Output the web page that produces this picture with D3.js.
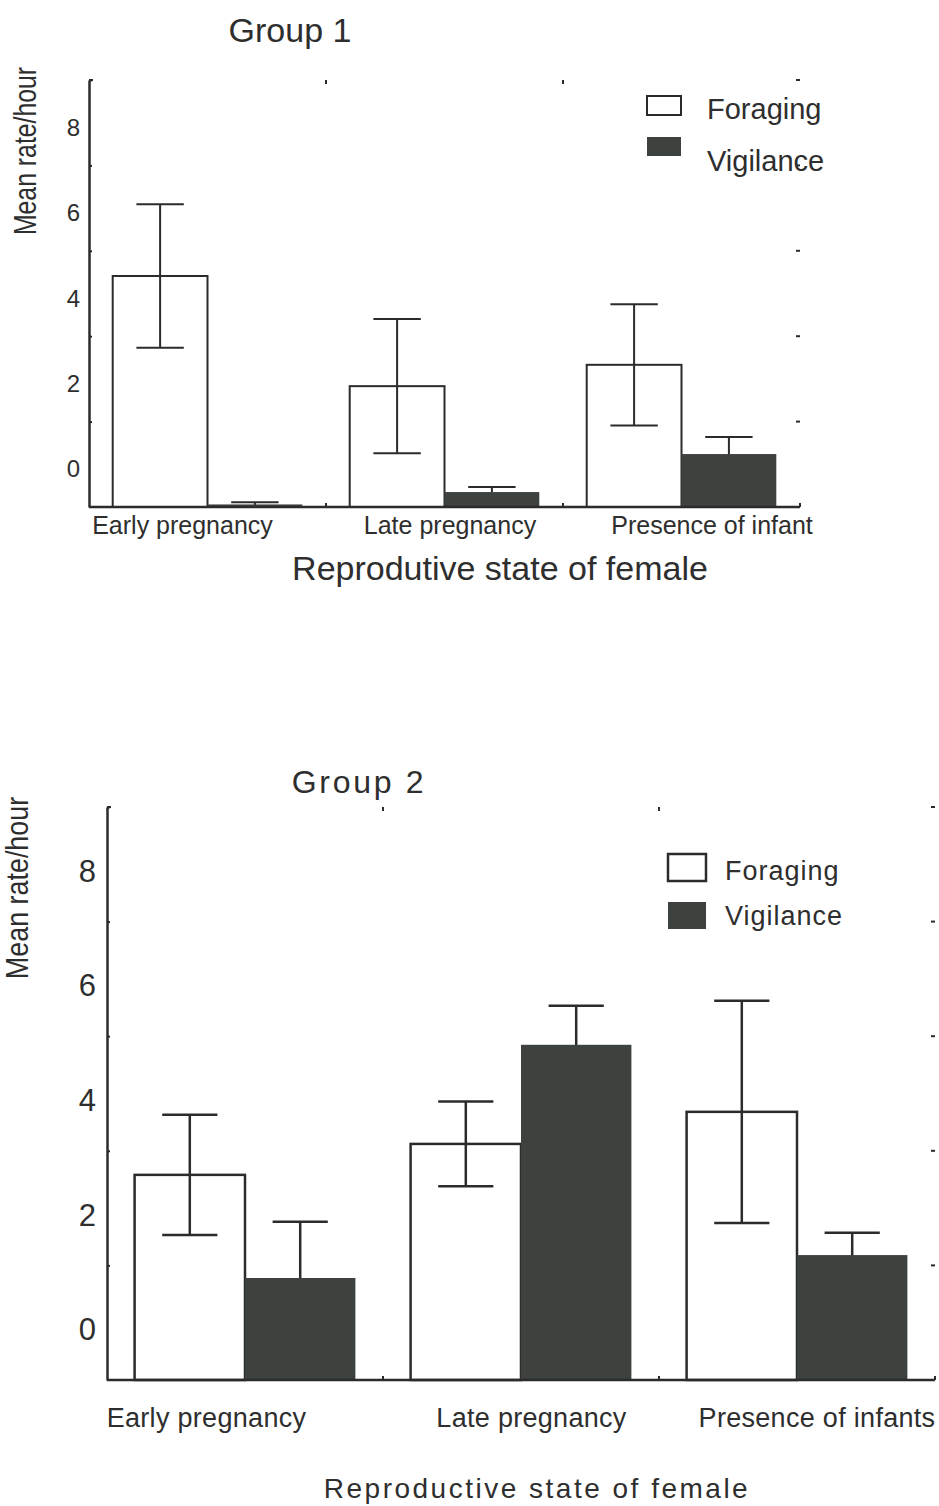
<!DOCTYPE html>
<html>
<head>
<meta charset="utf-8">
<script src="https://cdn.jsdelivr.net/npm/d3@7"></script>
<style>
  html, body { margin: 0; padding: 0; background: #fff; }
  svg { display: block; }
  text { font-family: "Liberation Sans", Arial, Helvetica, sans-serif; fill: #2e2e2e; }
</style>
</head>
<body>
<svg id="chart" width="939" height="1506"></svg>
<script>
// ---- data ----
const series = ["Foraging", "Vigilance"];

const group1Categories = ["Early pregnancy", "Late pregnancy", "Presence of infant"];
const group1Foraging = [4.41, 1.83, 2.33];
const group1ForagingErr = [1.68, 1.57, 1.42];
const group1Vigilance = [-0.94, -0.65, 0.24];
const group1VigilanceErr = [0.05, 0.12, 0.40];

const group2Categories = ["Early pregnancy", "Late pregnancy", "Presence of infants"];
const group2Foraging = [2.58, 3.12, 3.68];
const group2ForagingErr = [1.05, 0.74, 1.94];
const group2Vigilance = [0.78, 4.85, 1.18];
const group2VigilanceErr = [0.98, 0.68, 0.39];

const yDomain = [-1, 9];
const yTickLabels = [0, 2, 4, 6, 8];
const yMinorTicks = [1, 3, 5, 7, 9];

const yTitle = "Mean rate/hour";

// ---- layout & styling for each panel ----
const INK = "#2b2b2b";
const DARK = "#3d423e";

const panels = [
  {
    title: "Group 1", titleX: 290, titleY: 42, titleSize: 34, titleSpacing: 0,
    categories: group1Categories,
    values: [group1Foraging, group1Vigilance],
    errors: [group1ForagingErr, group1VigilanceErr],
    left: 89, right: 800, top: 80, bottom: 507,
    stroke: 2, axisStroke: 2.5,
    tickSize: 24, tickShift: 5, tickEnd: 80,
    yTitleX: 25, yTitleY: 151, yTitleSize: 31, yTitleSquash: 0.8,
    catSize: 25, catY: 534, catShift: [-25, 5.5, 30.5], catSpacing: 0,
    xTitle: "Reprodutive state of female", xTitleX: 500, xTitleY: 580, xTitleSize: 34, xTitleSpacing: 0,
    legendX: 647, legendText: 707, legendY: [96, 137], legendBoxW: 34, legendBoxH: 19,
    legendBase: [119, 171], legendSize: 29, legendSpacing: 0
  },
  {
    title: "Group 2", titleX: 359, titleY: 793, titleSize: 32, titleSpacing: 2.7,
    categories: group2Categories,
    values: [group2Foraging, group2Vigilance],
    errors: [group2ForagingErr, group2VigilanceErr],
    left: 107, right: 935, top: 807, bottom: 1380,
    stroke: 2.5, axisStroke: 2.5,
    tickSize: 31, tickShift: 7, tickEnd: 96,
    yTitleX: 17, yTitleY: 888, yTitleSize: 32, yTitleSquash: 0.84,
    catSize: 27, catY: 1427, catShift: [-38.5, 10.5, 20], catSpacing: 0.3,
    xTitle: "Reproductive state of female", xTitleX: 537, xTitleY: 1498, xTitleSize: 28, xTitleSpacing: 2.5,
    legendX: 668, legendText: 725, legendY: [854, 902], legendBoxW: 38, legendBoxH: 27,
    legendBase: [880, 925], legendSize: 27, legendSpacing: 1
  }
];

const svg = d3.select("#chart");

panels.forEach(p => {
  const g = svg.append("g");

  const x = d3.scaleBand().domain(p.categories).range([p.left, p.right]).paddingInner(0).paddingOuter(0);
  const xs = d3.scaleBand().domain(series).range([0, x.bandwidth()]).paddingInner(0).paddingOuter(0.25);
  const y = d3.scaleLinear().domain(yDomain).range([p.bottom, p.top]);

  const rows = p.categories.map((c, i) => ({
    category: c,
    foraging: p.values[0][i], foragingErr: p.errors[0][i],
    vigilance: p.values[1][i], vigilanceErr: p.errors[1][i]
  }));

  // title
  g.append("text")
    .attr("x", p.titleX).attr("y", p.titleY)
    .attr("text-anchor", "middle")
    .style("font-size", p.titleSize + "px")
    .style("letter-spacing", p.titleSpacing + "px")
    .text(p.title);

  // foraging bars (open)
  g.selectAll(".bar-f").data(rows).join("rect")
    .attr("x", d => x(d.category) + xs("Foraging"))
    .attr("width", xs.bandwidth())
    .attr("y", d => y(d.foraging))
    .attr("height", d => y(yDomain[0]) - y(d.foraging))
    .attr("fill", "#fff").attr("stroke", INK).attr("stroke-width", p.stroke);

  // error bars
  const capHalf = xs.bandwidth() / 4;
  const errGroup = g.append("g").attr("stroke", INK).attr("stroke-width", p.stroke).attr("fill", "none");
  rows.forEach(d => {
    [["Foraging", d.foraging, d.foragingErr], ["Vigilance", d.vigilance, d.vigilanceErr]].forEach(([s, v, e]) => {
      const cx = x(d.category) + xs(s) + xs.bandwidth() / 2;
      errGroup.append("line").attr("x1", cx).attr("x2", cx).attr("y1", y(v - e)).attr("y2", y(v + e));
      errGroup.append("line").attr("x1", cx - capHalf).attr("x2", cx + capHalf).attr("y1", y(v + e)).attr("y2", y(v + e));
      errGroup.append("line").attr("x1", cx - capHalf).attr("x2", cx + capHalf).attr("y1", y(v - e)).attr("y2", y(v - e));
    });
  });

  // vigilance bars (solid), drawn over their own lower whiskers
  g.selectAll(".bar-v").data(rows).join("rect")
    .attr("x", d => x(d.category) + xs("Vigilance"))
    .attr("width", xs.bandwidth())
    .attr("y", d => y(d.vigilance))
    .attr("height", d => y(yDomain[0]) - y(d.vigilance))
    .attr("fill", DARK);

  // y axis line with small odd-value ticks
  const yAxis = g.append("g")
    .attr("transform", `translate(${p.left},0)`)
    .call(d3.axisRight(y).tickValues(yMinorTicks).tickSize(3).tickSizeOuter(0).tickFormat(""));
  yAxis.select(".domain").attr("stroke", INK).attr("stroke-width", p.axisStroke);
  yAxis.selectAll(".tick line").attr("stroke", INK).attr("stroke-width", 2);

  // y tick labels
  const yLab = g.append("g")
    .attr("transform", `translate(${p.tickEnd},${p.tickShift})`)
    .call(d3.axisLeft(y).tickValues(yTickLabels).tickSize(0).tickPadding(0));
  yLab.select(".domain").remove();
  yLab.selectAll("text")
    .attr("fill", "#2e2e2e")
    .style("font-size", p.tickSize + "px")
    .style("font-family", '"Liberation Sans", Arial, sans-serif');

  // x axis baseline
  g.append("line")
    .attr("x1", p.left).attr("x2", p.right)
    .attr("y1", y(yDomain[0])).attr("y2", y(yDomain[0]))
    .attr("stroke", INK).attr("stroke-width", p.axisStroke);

  // faint frame ticks: category boundaries on bottom and top, odd values on right
  const frame = g.append("g").attr("stroke", INK).attr("stroke-width", 2);
  const bounds = p.categories.slice(1).map(c => x(c)).concat([p.right]);
  bounds.forEach(bx => {
    frame.append("line").attr("x1", bx).attr("x2", bx).attr("y1", y(yDomain[0])).attr("y2", y(yDomain[0]) - 4);
  });
  p.categories.slice(1).map(c => x(c)).forEach(bx => {
    frame.append("line").attr("x1", bx).attr("x2", bx).attr("y1", y(yDomain[1])).attr("y2", y(yDomain[1]) + 4);
  });
  yMinorTicks.forEach(v => {
    frame.append("line").attr("x1", p.right - 4).attr("x2", p.right).attr("y1", y(v)).attr("y2", y(v));
  });
  frame.append("line").attr("x1", p.left).attr("x2", p.left + 4).attr("y1", y(yDomain[1])).attr("y2", y(yDomain[1]));

  // category labels
  g.selectAll(".cat").data(p.categories).join("text")
    .attr("x", (c, i) => x(c) + x.bandwidth() / 2 + p.catShift[i])
    .attr("y", p.catY)
    .attr("text-anchor", "middle")
    .style("font-size", p.catSize + "px")
    .style("letter-spacing", p.catSpacing + "px")
    .text(c => c);

  // x axis title
  g.append("text")
    .attr("x", p.xTitleX).attr("y", p.xTitleY)
    .attr("text-anchor", "middle")
    .style("font-size", p.xTitleSize + "px")
    .style("letter-spacing", p.xTitleSpacing + "px")
    .text(p.xTitle);

  // y axis title
  g.append("text")
    .attr("transform", `translate(${p.yTitleX},${p.yTitleY}) rotate(-90) scale(${p.yTitleSquash},1)`)
    .attr("text-anchor", "middle")
    .attr("dy", "0.35em")
    .style("font-size", p.yTitleSize + "px")
    .text(yTitle);

  // legend
  series.forEach((s, i) => {
    g.append("rect")
      .attr("x", p.legendX).attr("y", p.legendY[i])
      .attr("width", p.legendBoxW).attr("height", p.legendBoxH)
      .attr("fill", i === 0 ? "#fff" : DARK)
      .attr("stroke", i === 0 ? INK : "none")
      .attr("stroke-width", p.stroke);
    g.append("text")
      .attr("x", p.legendText).attr("y", p.legendBase[i])
      .style("font-size", p.legendSize + "px")
      .style("letter-spacing", p.legendSpacing + "px")
      .text(s);
  });
});
</script>
</body>
</html>
